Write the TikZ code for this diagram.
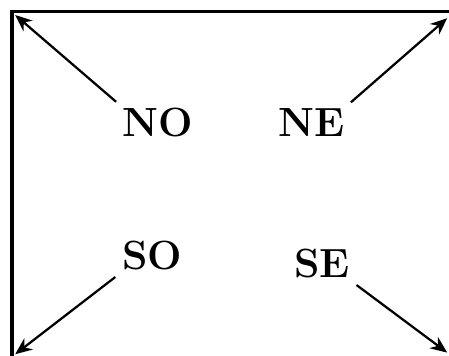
\documentclass[tikz,border=0pt]{standalone}
\usepackage{fontspec}
\usetikzlibrary{arrows.meta}
\begin{document}
\begin{tikzpicture}[x=1cm,y=1cm,thick,>={Stealth[length=6pt,width=5pt]},
  lbl/.style={font=\fontsize{14.5}{17}\selectfont\bfseries,inner sep=2pt}]
\useasboundingbox (0,0) rectangle (5.6125,4.4375);
\clip (0,0) rectangle (5.6125,4.4375);
\draw[line width=1.1pt] (0.15,-0.05) rectangle (5.66,4.29);

\node[lbl] (no) at (1.975,2.9) {NO};
\node[lbl] (ne) at (3.89,2.9) {NE};
\node[lbl] (so) at (1.9,1.24) {SO};
\node[lbl] (se) at (4.025,1.14) {SE};

\coordinate (cnw) at (0.19,4.25);
\coordinate (cne) at (5.59,4.21);
\coordinate (csw) at (0.19,0.01);
\coordinate (cse) at (5.59,0.03);

\draw[->] (no.north west) -- (cnw);
\draw[->] (ne.north east) -- (cne);
\draw[->] (so.south west) -- (csw);
\draw[->] (se.south east) -- (cse);
\end{tikzpicture}
\end{document}
